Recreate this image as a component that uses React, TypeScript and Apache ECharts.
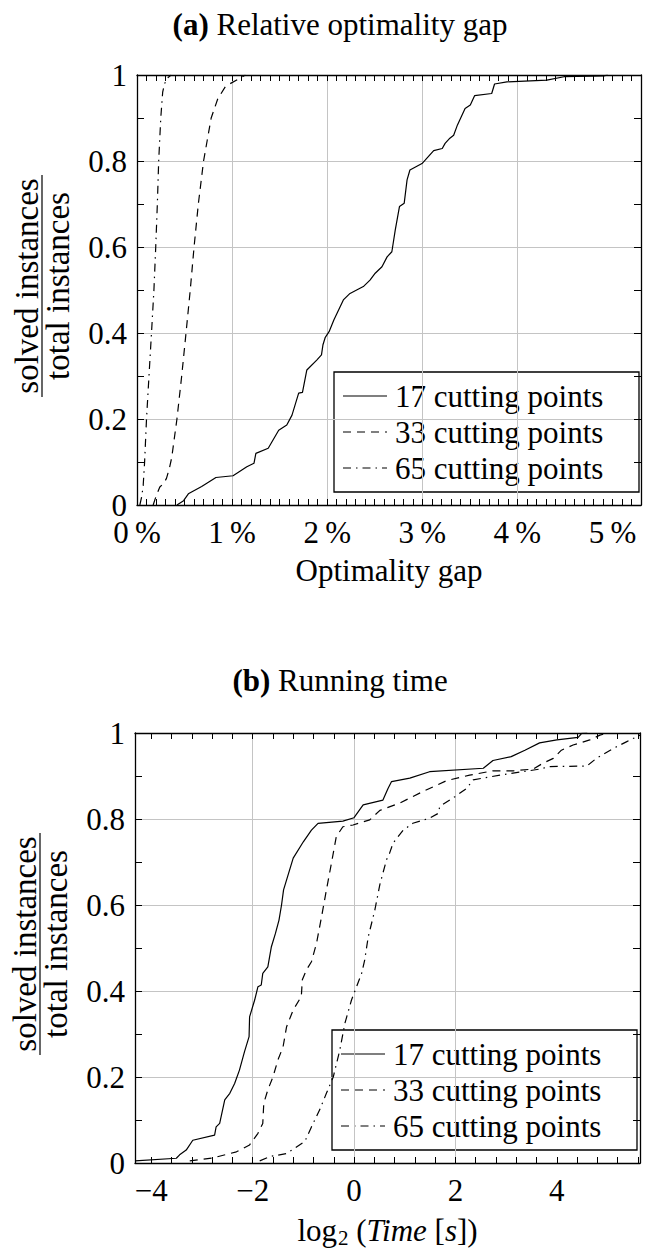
import { useEffect, useRef } from 'react';
import * as echarts from 'echarts';

const FONT = 'Liberation Serif';
const FS = 31;

// ---- data ----
const seriesNames = ['17 cutting points', '33 cutting points', '65 cutting points'];

const gapMajorTicks = [0, 1, 2, 3, 4, 5];
const timeMajorTicks = [-4, -2, 0, 2, 4];
const timeMinorTicks = [-4, -3.6, -3.2, -2.8, -2.4, -2, -1.6, -1.2, -0.8, -0.4, 0, 0.4, 0.8, 1.2, 1.6, 2, 2.4, 2.8, 3.2, 3.6, 4, 4.4, 4.8, 5.2, 5.6];

const gap17 = [
  [0.42, 0], [0.49, 0.01], [0.54, 0.026], [0.68, 0.043], [0.83, 0.064], [1.01, 0.068], [1.155, 0.089],
  [1.23, 0.097], [1.25, 0.12], [1.38, 0.132], [1.49, 0.174], [1.575, 0.186], [1.63, 0.209], [1.7, 0.26],
  [1.74, 0.262], [1.786, 0.314], [1.89, 0.337], [1.94, 0.349], [1.955, 0.372], [1.98, 0.39], [2.02, 0.403],
  [2.07, 0.43], [2.17, 0.477], [2.24, 0.492], [2.38, 0.508], [2.45, 0.523], [2.505, 0.539], [2.576, 0.554],
  [2.63, 0.577], [2.68, 0.589], [2.716, 0.64], [2.76, 0.694], [2.81, 0.702], [2.84, 0.756], [2.87, 0.779],
  [2.997, 0.794], [3.03, 0.802], [3.12, 0.824], [3.21, 0.829], [3.24, 0.841], [3.29, 0.853], [3.33, 0.86],
  [3.37, 0.884], [3.45, 0.922], [3.505, 0.93], [3.55, 0.952], [3.73, 0.957], [3.76, 0.979], [3.89, 0.984],
  [4.31, 0.988], [4.49, 0.996], [4.91, 0.998], [4.95, 1],
];
const gap33 = [
  [0.17, 0], [0.2, 0.02], [0.24, 0.042], [0.28, 0.05], [0.31, 0.062], [0.34, 0.085], [0.365, 0.11],
  [0.42, 0.2], [0.47, 0.3], [0.52, 0.41], [0.56, 0.5], [0.6, 0.6], [0.645, 0.7], [0.7, 0.8], [0.74, 0.85],
  [0.78, 0.9], [0.85, 0.945], [0.93, 0.973], [0.98, 0.98], [1.08, 0.992], [1.14, 1],
];
const gap65 = [
  [0.03, 0], [0.05, 0.02], [0.065, 0.045], [0.08, 0.1], [0.1, 0.2], [0.126, 0.3], [0.155, 0.41],
  [0.178, 0.5], [0.197, 0.6], [0.214, 0.7], [0.228, 0.8], [0.25, 0.9], [0.27, 0.96], [0.29, 0.98],
  [0.33, 0.995], [0.36, 1],
];

const time17 = [
  [-4.32, 0.005], [-3.505, 0.011], [-3.44, 0.019], [-3.31, 0.03], [-3.18, 0.053], [-2.75, 0.065],
  [-2.72, 0.084], [-2.65, 0.092], [-2.55, 0.147], [-2.45, 0.162], [-2.355, 0.185], [-2.26, 0.216],
  [-2.16, 0.259], [-2.07, 0.294], [-2.06, 0.34], [-1.96, 0.379], [-1.895, 0.41], [-1.83, 0.414],
  [-1.8, 0.441], [-1.7, 0.456], [-1.63, 0.503], [-1.55, 0.534], [-1.48, 0.565], [-1.43, 0.6],
  [-1.39, 0.635], [-1.2, 0.709], [-1.0, 0.747], [-0.84, 0.774], [-0.71, 0.79], [-0.22, 0.795],
  [0.0, 0.803], [0.18, 0.833], [0.57, 0.844], [0.67, 0.871], [0.74, 0.887], [1.1, 0.895], [1.49, 0.91],
  [2.55, 0.918], [2.74, 0.936], [3.1, 0.945], [3.37, 0.96], [3.66, 0.977], [4.0, 0.984], [4.42, 0.99],
  [4.49, 0.999], [4.6, 1],
];
const time33 = [
  [-3.24, 0.005], [-2.78, 0.012], [-2.32, 0.026], [-2.06, 0.042], [-1.895, 0.069], [-1.8, 0.092],
  [-1.78, 0.139], [-1.7, 0.17], [-1.6, 0.2], [-1.5, 0.24], [-1.4, 0.27], [-1.33, 0.317], [-1.2, 0.356],
  [-1.04, 0.387], [-1.02, 0.426], [-0.94, 0.449], [-0.84, 0.468], [-0.74, 0.511], [-0.64, 0.573],
  [-0.545, 0.635], [-0.446, 0.697], [-0.35, 0.759], [-0.22, 0.782], [-0.02, 0.786], [0.31, 0.798],
  [0.51, 0.82], [0.9, 0.837], [1.36, 0.864], [1.82, 0.889], [2.28, 0.902], [2.74, 0.912], [3.14, 0.912],
  [3.53, 0.916], [3.73, 0.93], [3.93, 0.941], [4.09, 0.96], [4.32, 0.972], [4.65, 0.984], [4.85, 0.995],
  [5.0, 1],
];
const time65 = [
  [-1.86, 0.005], [-1.66, 0.015], [-1.33, 0.022], [-0.97, 0.05], [-0.84, 0.084], [-0.68, 0.123],
  [-0.545, 0.162], [-0.41, 0.2], [-0.28, 0.263], [-0.18, 0.325], [-0.05, 0.379], [0.05, 0.41],
  [0.15, 0.441], [0.21, 0.472], [0.28, 0.526], [0.41, 0.588], [0.51, 0.648], [0.64, 0.705], [0.7, 0.72],
  [0.77, 0.744], [0.97, 0.774], [1.16, 0.79], [1.49, 0.802], [1.66, 0.813], [1.69, 0.829], [1.99, 0.852],
  [2.22, 0.871], [2.35, 0.891], [2.88, 0.902], [3.66, 0.916], [3.86, 0.922], [4.59, 0.923], [4.78, 0.941],
  [5.11, 0.964], [5.38, 0.98], [5.64, 0.995],
];

// ---- styles ----
const dashStyles: any[] = ['solid', [8, 6], [8, 5, 1.5, 5]];
const BLACK = '#000';
const GRID_COLOR = '#c4c4c4';

const gapRange = [0, 5.3];
const timeRange = [-4.32, 5.64];

const frameLine = { show: true, onZero: false, lineStyle: { color: BLACK, width: 1.3 } };
const noLine = { show: false, onZero: false };
const tickStyle = { color: BLACK, width: 1 };
const fontOf = (size: number, extra: any = {}) => ({ fontFamily: FONT, fontSize: size, fontWeight: 'normal', fontStyle: 'normal', ...extra });

const CSS = `#fig-root svg text, #fig-root svg tspan { font-family: "Liberation Serif", "Times New Roman", serif !important; }`;

function xAxes(grid: number, range: number[], major: number[], minor: any, fmt: (v: number) => string, name: string, rich?: any) {
  const minorTick = (position: string, showLine: boolean) => ({
    type: 'value', gridIndex: grid, position, min: range[0], max: range[1],
    ...(Array.isArray(minor) ? {} : { interval: minor }),
    axisLine: showLine ? frameLine : noLine,
    axisTick: { show: true, inside: true, length: 6, lineStyle: tickStyle, ...(Array.isArray(minor) ? { customValues: minor } : {}) },
    axisLabel: { show: false },
    splitLine: { show: false },
  });
  return [
    {
      type: 'value', gridIndex: grid, position: 'bottom', min: range[0], max: range[1],
      axisLine: frameLine,
      axisTick: { show: false, customValues: major },
      axisLabel: { customValues: major, formatter: fmt, margin: 12, color: BLACK, ...fontOf(FS) },
      splitLine: { show: true, showMinLine: false, showMaxLine: false, lineStyle: { color: GRID_COLOR, width: 1 } },
      name, nameLocation: 'middle', nameGap: 50,
      nameTextStyle: { color: BLACK, ...fontOf(FS), ...(rich ? { rich } : {}) },
    },
    minorTick('bottom', false),
    minorTick('top', true),
  ];
}

function yAxes(grid: number) {
  const minorTick = (position: string, showLine: boolean) => ({
    type: 'value', gridIndex: grid, position, min: 0, max: 1, interval: 0.1,
    axisLine: showLine ? frameLine : noLine,
    axisTick: { show: true, inside: true, length: 7, lineStyle: tickStyle },
    axisLabel: { show: false },
    splitLine: { show: false },
  });
  return [
    {
      type: 'value', gridIndex: grid, position: 'left', min: 0, max: 1, interval: 0.2,
      axisLine: frameLine,
      axisTick: { show: false },
      axisLabel: { margin: 10, color: BLACK, ...fontOf(FS) },
      splitLine: { show: true, showMinLine: false, showMaxLine: false, lineStyle: { color: GRID_COLOR, width: 1 } },
    },
    minorTick('left', false),
    minorTick('right', true),
  ];
}

function lineSeries(data: number[][], idx: number, axisIndex: number) {
  return {
    type: 'line', name: seriesNames[idx], xAxisIndex: axisIndex, yAxisIndex: axisIndex,
    data, symbol: 'none', showSymbol: false, silent: true, z: 3,
    lineStyle: { color: BLACK, width: 1.2, type: dashStyles[idx] },
  };
}

function legendGraphic(bx: number, by: number) {
  const children: any[] = [
    { type: 'rect', shape: { x: bx, y: by, width: 305, height: 120 }, style: { fill: '#fff', stroke: BLACK, lineWidth: 1.3 } },
  ];
  seriesNames.forEach((name, i) => {
    const ry = by + 24 + 36 * i;
    children.push({
      type: 'line', shape: { x1: bx + 9, y1: ry, x2: bx + 53, y2: ry },
      style: { stroke: BLACK, lineWidth: 1.2, lineDash: dashStyles[i] === 'solid' ? null : dashStyles[i] },
    });
    children.push({
      type: 'text', x: bx + 61, y: ry,
      style: { text: name, fill: BLACK, align: 'left', verticalAlign: 'middle', ...fontOf(FS) },
    });
  });
  return { type: 'group', z: 100, children };
}

function yLabelGraphic(cx: number, cy: number) {
  const size = 33;
  return {
    type: 'group', x: cx, y: cy, rotation: Math.PI / 2, z: 100,
    children: [
      { type: 'text', x: 0, y: -15, style: { text: 'solved instances', fill: BLACK, align: 'center', verticalAlign: 'middle', ...fontOf(size) } },
      { type: 'line', shape: { x1: -111, y1: 0, x2: 111, y2: 0 }, style: { stroke: BLACK, lineWidth: 1.2 } },
      { type: 'text', x: 0, y: 16, style: { text: 'total instances', fill: BLACK, align: 'center', verticalAlign: 'middle', ...fontOf(size) } },
    ],
  };
}

function titleGraphic(y: number, tag: string, text: string) {
  return {
    type: 'text', x: 340, y, z: 100,
    style: {
      text: `{b|${tag}} ${text}`, fill: BLACK, align: 'center', verticalAlign: 'middle', ...fontOf(FS),
      rich: { b: { fill: BLACK, ...fontOf(FS, { fontWeight: 'bold' }) } },
    },
  };
}

export default function App() {
  const ref = useRef<HTMLDivElement>(null);
  useEffect(() => {
    if (!ref.current) return;
    const chart = echarts.init(ref.current, undefined, { renderer: 'svg' });
    const fmtPct = (v: number) => `${v}\u2009%`;
    const fmtNum = (v: number) => (v < 0 ? '\u2212' + Math.abs(v) : String(v));
    const timeRich = {
      sub: { color: BLACK, ...fontOf(21, { padding: [14, 0, 0, 1] }) },
      i: { color: BLACK, ...fontOf(FS, { fontStyle: 'italic' }) },
    };
    chart.setOption({
      animation: false,
      backgroundColor: '#fff',
      grid: [
        { left: 137, top: 75, width: 504, height: 430 },
        { left: 135, top: 733, width: 505, height: 430 },
      ],
      xAxis: [
        ...xAxes(0, gapRange, gapMajorTicks, 0.1, fmtPct, 'Optimality gap'),
        ...xAxes(1, timeRange, timeMajorTicks, timeMinorTicks, fmtNum, 'log{sub|2} ({i|Time} [{i|s}])', timeRich),
      ],
      yAxis: [...yAxes(0), ...yAxes(1)],
      series: [
        lineSeries(gap17, 0, 0), lineSeries(gap33, 1, 0), lineSeries(gap65, 2, 0),
        lineSeries(time17, 0, 3), lineSeries(time33, 1, 3), lineSeries(time65, 2, 3),
      ],
      graphic: [
        titleGraphic(24, '(a)', 'Relative optimality gap'),
        titleGraphic(680, '(b)', 'Running time'),
        yLabelGraphic(42, 286),
        yLabelGraphic(40, 944),
        legendGraphic(334, 372),
        legendGraphic(332, 1030),
      ],
    });
    return () => chart.dispose();
  }, []);
  return (
    <div id="fig-root" style={{ position: 'absolute', left: 0, top: 0, width: 649, height: 1249, fontFamily: FONT }}>
      <style>{CSS}</style>
      <div ref={ref} style={{ width: 649, height: 1249, background: '#fff', fontFamily: FONT }} />
    </div>
  );
}
